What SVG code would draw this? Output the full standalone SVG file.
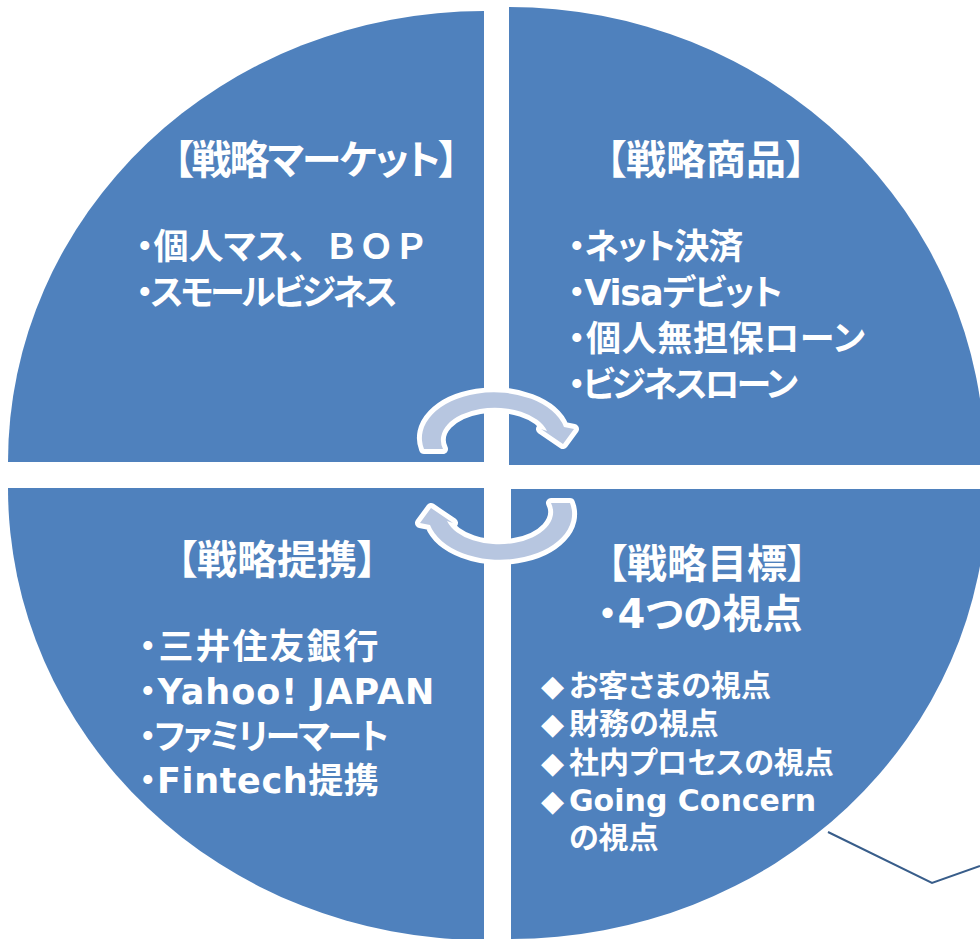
<svg xmlns="http://www.w3.org/2000/svg" xmlns:xlink="http://www.w3.org/1999/xlink" width="980" height="939" viewBox="0 0 980 939">
<style>
.q{fill:#4F81BD;}
.t{fill:#FFFFFF;font-family:'DejaVu Sans','Noto Sans CJK JP',sans-serif;font-weight:bold;font-feature-settings:"palt";}
.title{font-size:40px;text-anchor:middle;}
.item{font-size:35px;}
.sub{font-size:30px;}
.nopalt{font-feature-settings:normal;}
.arr-o{fill:none;stroke:#FFFFFF;stroke-width:10;stroke-linejoin:round;}
.arr-f{fill:#B7C6E0;}
.conn{fill:none;stroke:#385D8A;stroke-width:2;}
</style>
<defs>
<path id="arrowShape" d="M424,449 A71,45 0 0 1 564,427 L574,429 L563,444 L541,429 L547,431 A52,31 0 0 0 443,449 Z"/>
</defs>
<rect width="980" height="939" fill="#FFFFFF"/>
<g id="node-market">
<path class="q" d="M484,462 L8,462 A476,451 0 0 1 484,11 Z"/>
<text class="t title" x="315" y="174" style="letter-spacing:-2px">【戦略マーケット】</text>
<text class="t item" x="136" y="259">・個人マス<tspan class="nopalt">、ＢＯＰ</tspan></text>
<text class="t item" x="136" y="305" style="letter-spacing:-3px">・スモールビジネス</text>
</g>
<g id="node-product">
<path class="q" d="M509,465 L509,7 A476,458 0 0 1 985,465 Z"/>
<text class="t title" x="706" y="174">【戦略商品】</text>
<text class="t item" x="568" y="259" style="letter-spacing:-1.2px">・ネット決済</text>
<text class="t item" x="568" y="305" style="letter-spacing:-1.2px">・Visaデビット</text>
<text class="t item" x="568" y="351" style="letter-spacing:0.6px">・個人無担保ローン</text>
<text class="t item" x="568" y="397" style="letter-spacing:-3px">・ビジネスローン</text>
</g>
<g id="node-alliance">
<path class="q" d="M484,488 L484,940 A476,452 0 0 1 8,488 Z"/>
<text class="t title" x="277" y="574">【戦略提携】</text>
<text class="t item" x="139" y="659" style="letter-spacing:2px">・三井住友銀行</text>
<text class="t item" x="139" y="704" style="letter-spacing:1px">・Yahoo! JAPAN</text>
<text class="t item" x="139" y="749" style="letter-spacing:-2.2px">・ファミリーマート</text>
<text class="t item" x="139" y="793" style="letter-spacing:0.6px">・Fintech提携</text>
</g>
<g id="node-goal">
<path class="q" d="M511,489 L987,489 A476,450 0 0 1 511,939 Z"/>
<text class="t title" x="707" y="578">【戦略目標】</text>
<text class="t title" x="700" y="628">・4つの視点</text>
<text class="t sub" x="541" y="696">◆<tspan x="569">お客さまの視点</tspan></text>
<text class="t sub" x="541" y="734">◆<tspan x="569">財務の視点</tspan></text>
<text class="t sub" x="541" y="773">◆<tspan x="569">社内プロセスの視点</tspan></text>
<text class="t sub" x="541" y="811">◆<tspan x="569">Going Concern</tspan></text>
<text class="t sub" x="569" y="848">の視点</text>
</g>
<g id="cycle-arrows">
<use xlink:href="#arrowShape" class="arr-o"/>
<use xlink:href="#arrowShape" class="arr-f"/>
<g transform="rotate(180 497 476)">
<use xlink:href="#arrowShape" class="arr-o"/>
<use xlink:href="#arrowShape" class="arr-f"/>
</g>
</g>
<g id="connectors">
<polyline class="conn" points="828,832 932,883 980,866"/>
</g>
</svg>
